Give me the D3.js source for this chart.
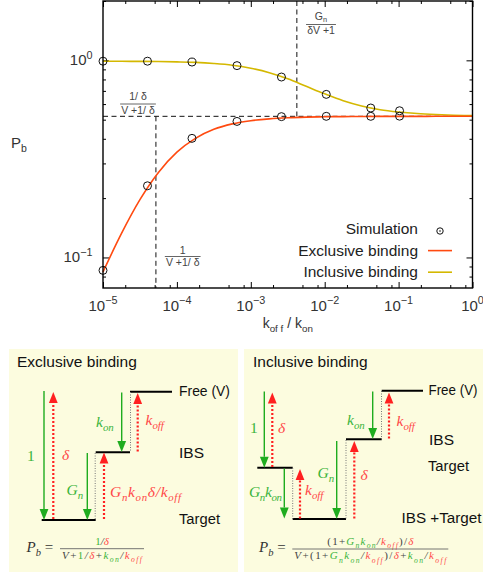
<!DOCTYPE html>
<html>
<head>
<meta charset="utf-8">
<script src="https://cdn.jsdelivr.net/npm/d3@7"></script>
<style>
  body { margin: 0; background: #fff; }
  svg text { font-family: "Liberation Sans", Arial, sans-serif; }
  .math { font-family: "Liberation Serif", "DejaVu Serif", serif; font-style: italic; }
  .up { font-family: "Liberation Serif", "DejaVu Serif", serif; }
</style>
</head>
<body>
<svg width="483" height="573"></svg>
<script>
// ---- data ----
const xMajor = [1e-5, 1e-4, 1e-3, 1e-2, 1e-1, 1]
const xMajorExp = ['\u22125', '\u22124', '\u22123', '\u22122', '\u22121', '0']
const xMinor = [2e-5, 5e-5, 8e-5, 2e-4, 5e-4, 8e-4, 2e-3, 5e-3, 8e-3, 2e-2, 5e-2, 8e-2, 0.2, 0.5, 0.8]
const yMajor = [0.1, 1]
const yMajorExp = ['\u22121', '0']
const yMinor = [0.08, 0.09, 0.2, 0.3, 0.4, 0.5, 0.6, 0.7, 0.8, 0.9, 2]

// theory curves (koff/kon -> Pb)
const curveX = [1e-5, 1.78e-5, 3.16e-5, 5.62e-5, 1e-4, 1.78e-4, 3.16e-4, 5.62e-4, 1e-3, 1.78e-3, 3.16e-3,
  5.62e-3, 1e-2, 1.78e-2, 3.16e-2, 5.62e-2, 0.1, 0.178, 0.316, 0.562, 1]
const exclusiveCurve = [0.0844, 0.1324, 0.1964, 0.270, 0.342, 0.402, 0.4465, 0.476, 0.494, 0.505, 0.5116,
  0.5152, 0.5172, 0.5184, 0.5191, 0.5195, 0.5197, 0.5198, 0.52, 0.52, 0.52]
const inclusiveCurve = [0.99, 0.989, 0.988, 0.986, 0.982, 0.976, 0.964, 0.945, 0.912, 0.866, 0.806,
  0.738, 0.676, 0.624, 0.587, 0.562, 0.547, 0.537, 0.531, 0.527, 0.524]

// simulation points
const simX = [1e-5, 4.0e-5, 1.6e-4, 6.5e-4, 2.6e-3, 1.05e-2, 4.2e-2, 0.103]
const simExclusive = [0.086, 0.231, 0.402, 0.49, 0.518, 0.52, 0.52, 0.521]
const simInclusive = [0.99, 0.99, 0.98, 0.94, 0.823, 0.672, 0.573, 0.555]

// reference lines
const plateau = 0.52          // (1/d)/(V+1/d)
const halfExclusive = 5.2e-5  // 1/(V+1/d)
const halfInclusive = 4.2e-3  // Gn/(dV+1)

const exclColor = '#ff4a10'
const inclColor = '#d4b800'
const green = '#1fac1f'
const red = '#ff2020'
const greenText = '#3bb43b'
const redText = '#ff4848'

const svg = d3.select('svg')

const x = d3.scaleLog().domain([1e-5, 1]).range([103, 472.5])
const y = d3.scaleLog().domain([0.07, 2]).range([288, 1])
const pLeft = x.range()[0], pRight = x.range()[1]
const pTop = y.range()[1], pBottom = y.range()[0]

// rich text: parts = [{t, s: 'sub'|'sup', c: colour}]
function rich(g, px, py, parts, size, opts = {}) {
  const t = g.append('text')
    .attr('x', px).attr('y', py)
    .attr('font-size', size)
    .attr('fill', opts.fill || '#222')
    .attr('text-anchor', opts.anchor || 'start')
  if (opts.cls) t.attr('class', opts.cls)
  if (opts.len) t.attr('textLength', opts.len).attr('lengthAdjust', 'spacing')
  let shift = 0
  parts.forEach(p => {
    let s = 0, fs = size
    if (p.s === 'sub') { s = size * 0.28; fs = size * 0.7 }
    if (p.s === 'sup') { s = -size * 0.42; fs = size * 0.72 }
    const ts = t.append('tspan').text(p.t).attr('font-size', fs).attr('dy', s - shift)
    if (p.c) ts.attr('fill', p.c)
    if (p.up) ts.attr('font-style', 'normal')
    shift = s
  })
  return t
}

function frac(g, cx, ly, num, den, size, opts = {}) {
  const base = { anchor: 'middle', fill: opts.fill, cls: opts.cls }
  const a = rich(g, cx, ly - (opts.numUp || size * 0.3), num, size, Object.assign({}, base, { len: opts.numLen }))
  const b = rich(g, cx, ly + size * 0.95, den, size, Object.assign({}, base, { len: opts.denLen }))
  const w = opts.lineLen || Math.max(a.node().getBBox().width, b.node().getBBox().width) + 2
  g.append('line')
    .attr('x1', cx - w / 2).attr('x2', cx + w / 2)
    .attr('y1', ly).attr('y2', ly)
    .attr('stroke', opts.line || '#555').attr('stroke-width', 0.9)
}

// ---- top chart ----
const chart = svg.append('g')

const axes = chart.append('g').attr('class', 'axes')
const tickStyle = sel => {
  sel.select('.domain').remove()
  sel.selectAll('line').attr('stroke', '#000').attr('stroke-width', 1)
}
axes.append('g').attr('transform', `translate(0,${pBottom})`)
  .call(d3.axisBottom(x).tickValues(xMajor).tickSize(-6).tickFormat('')).call(tickStyle)
axes.append('g').attr('transform', `translate(0,${pBottom})`)
  .call(d3.axisBottom(x).tickValues(xMinor).tickSize(-3).tickFormat('')).call(tickStyle)
axes.append('g').attr('transform', `translate(0,${pTop})`)
  .call(d3.axisTop(x).tickValues(xMajor).tickSize(-6).tickFormat('')).call(tickStyle)
axes.append('g').attr('transform', `translate(0,${pTop})`)
  .call(d3.axisTop(x).tickValues(xMinor).tickSize(-3).tickFormat('')).call(tickStyle)
axes.append('g').attr('transform', `translate(${pLeft},0)`)
  .call(d3.axisLeft(y).tickValues(yMajor).tickSize(-6).tickFormat('')).call(tickStyle)
axes.append('g').attr('transform', `translate(${pLeft},0)`)
  .call(d3.axisLeft(y).tickValues(yMinor).tickSize(-3).tickFormat('')).call(tickStyle)
axes.append('g').attr('transform', `translate(${pRight},0)`)
  .call(d3.axisRight(y).tickValues(yMajor).tickSize(-6).tickFormat('')).call(tickStyle)
axes.append('g').attr('transform', `translate(${pRight},0)`)
  .call(d3.axisRight(y).tickValues(yMinor).tickSize(-3).tickFormat('')).call(tickStyle)

// tick labels
xMajor.forEach((t, i) => {
  rich(chart, x(t), pBottom + 22.5, [{ t: '10' }, { t: xMajorExp[i], s: 'sup' }], 15, { anchor: 'middle', fill: '#333' })
})
yMajor.forEach((t, i) => {
  rich(chart, pLeft - 10.5, y(t) + 4.5, [{ t: '10' }, { t: yMajorExp[i], s: 'sup' }], 15, { anchor: 'end', fill: '#333' })
})

// axis titles
rich(chart, (pLeft + pRight) / 2, 328, [{ t: 'k' }, { t: 'of f', s: 'sub' }, { t: ' / k' }, { t: 'on', s: 'sub' }], 14, { anchor: 'middle', fill: '#333' })
rich(chart, 11, 148, [{ t: 'P' }, { t: 'b', s: 'sub' }], 15, { fill: '#333' })

// dashed guides
const dash = '5,3.5'
chart.append('line')
  .attr('x1', pLeft).attr('x2', pRight).attr('y1', y(plateau)).attr('y2', y(plateau))
  .attr('stroke', '#111').attr('stroke-dasharray', dash)
chart.append('line')
  .attr('x1', x(halfExclusive)).attr('x2', x(halfExclusive)).attr('y1', y(plateau)).attr('y2', pBottom)
  .attr('stroke', '#111').attr('stroke-dasharray', dash)
chart.append('line')
  .attr('x1', x(halfInclusive)).attr('x2', x(halfInclusive)).attr('y1', pTop).attr('y2', y(plateau))
  .attr('stroke', '#111').attr('stroke-dasharray', dash)

// curves
const line = d3.line().x(d => x(d[0])).y(d => y(d[1])).curve(d3.curveMonotoneX)
chart.append('path')
  .datum(curveX.map((v, i) => [v, inclusiveCurve[i]]))
  .attr('d', line).attr('fill', 'none').attr('stroke', inclColor).attr('stroke-width', 1.6)
chart.append('path')
  .datum(curveX.map((v, i) => [v, exclusiveCurve[i]]))
  .attr('d', line).attr('fill', 'none').attr('stroke', exclColor).attr('stroke-width', 1.6)

// simulation circles
const pts = simX.map((v, i) => [v, simExclusive[i]]).concat(simX.map((v, i) => [v, simInclusive[i]]))
chart.selectAll('circle.sim')
  .data(pts)
  .enter()
  .append('circle')
  .attr('class', 'sim')
  .attr('cx', d => x(d[0]))
  .attr('cy', d => y(d[1]))
  .attr('r', 4)
  .attr('fill', 'none')
  .attr('stroke', '#111')
  .attr('stroke-width', 1)

// frame
chart.append('rect')
  .attr('x', pLeft).attr('y', pTop).attr('width', pRight - pLeft).attr('height', pBottom - pTop)
  .attr('fill', 'none').attr('stroke', '#000').attr('stroke-width', 1.4)

// annotations
const ann = { fill: '#444' }
frac(chart, 138, 104, [{ t: '1/ \u03b4' }], [{ t: 'V +1/ \u03b4' }], 10.5, Object.assign({ numUp: 4 }, ann))
frac(chart, 321, 24.5, [{ t: 'G' }, { t: 'n', s: 'sub' }], [{ t: '\u03b4V +1' }], 10.5, Object.assign({ numUp: 5 }, ann))
frac(chart, 182.7, 256.5, [{ t: '1' }], [{ t: 'V +1/ \u03b4' }], 10.5, Object.assign({ numUp: 2.5 }, ann))

// legend
const legend = chart.append('g')
const legendRows = ['Simulation', 'Exclusive binding', 'Inclusive binding']
legendRows.forEach((name, i) => {
  const by = 234 + i * 21.6
  legend.append('text').attr('x', 418).attr('y', by).attr('text-anchor', 'end')
    .attr('font-size', 15.5).attr('fill', '#222').text(name)
  if (i === 0) {
    legend.append('circle').attr('cx', 440).attr('cy', by - 3).attr('r', 3.2)
      .attr('fill', 'none').attr('stroke', '#111').attr('stroke-width', 1)
    legend.append('circle').attr('cx', 440).attr('cy', by - 3).attr('r', 0.8).attr('fill', '#111')
  } else {
    legend.append('line').attr('x1', 428).attr('x2', 452).attr('y1', by - 5).attr('y2', by - 5)
      .attr('stroke', i === 1 ? exclColor : inclColor).attr('stroke-width', 1.6)
  }
})

// ---- bottom schemes ----
const scheme = svg.append('g')
scheme.append('rect').attr('x', 9).attr('y', 349).attr('width', 229).attr('height', 223).attr('fill', '#fcfcdf')
scheme.append('rect').attr('x', 244).attr('y', 349).attr('width', 239).attr('height', 223).attr('fill', '#fcfcdf')

function level(x1, x2, ly) {
  scheme.append('line').attr('x1', x1).attr('x2', x2).attr('y1', ly).attr('y2', ly)
    .attr('stroke', '#000').attr('stroke-width', 2)
}
function connector(cx, y1, y2) {
  scheme.append('line').attr('x1', cx).attr('x2', cx).attr('y1', y1).attr('y2', y2)
    .attr('stroke', '#777').attr('stroke-width', 1).attr('stroke-dasharray', '1,1.5')
}
function arrow(cx, yFrom, yTo, color, dotted) {
  const dir = yTo > yFrom ? 1 : -1
  const hl = 11, hw = 4.4
  const l = scheme.append('line').attr('x1', cx).attr('x2', cx)
    .attr('y1', yFrom).attr('y2', yTo - dir * hl)
    .attr('stroke', color).attr('stroke-width', dotted ? 2.2 : 1.4)
  if (dotted) l.attr('stroke-dasharray', '2,2')
  scheme.append('path')
    .attr('d', `M${cx},${yTo} L${cx - hw},${yTo - dir * hl} L${cx + hw},${yTo - dir * hl} Z`)
    .attr('fill', color)
}
const label = (px, py, txt, len, size) => {
  const t = scheme.append('text').attr('x', px).attr('y', py)
    .attr('font-size', size || 15.5).attr('fill', '#111').text(txt)
  if (len) t.attr('textLength', len).attr('lengthAdjust', 'spacingAndGlyphs')
  return t
}
const mlab = (px, py, parts, c, len) => rich(scheme, px, py, parts, 15.5, { fill: c, cls: 'math', len: len })

// exclusive panel
label(17, 366.7, 'Exclusive binding')
level(130, 172, 391.7)
level(95.7, 130, 452.3)
level(41.7, 95.7, 520)
label(179, 396, 'Free (V)', 51)
label(179, 457.5, 'IBS')
label(179, 524, 'Target', 41)
connector(130.5, 392, 452)
connector(95.2, 453, 520)
arrow(44, 391, 520, green, false)
arrow(53.3, 519, 392, red, true)
arrow(121.7, 392.5, 452, green, false)
arrow(137.7, 451.5, 393, red, true)
arrow(87.3, 453, 520, green, false)
arrow(104, 519, 452.5, red, true)
rich(scheme, 27, 461, [{ t: '1' }], 15.5, { fill: greenText, cls: 'up' })
mlab(62, 460, [{ t: '\u03b4' }], redText)
mlab(96, 426.5, [{ t: 'k' }, { t: 'on', s: 'sub' }], greenText)
mlab(145.5, 425, [{ t: 'k' }, { t: 'off', s: 'sub' }], redText)
mlab(66.5, 495, [{ t: 'G' }, { t: 'n', s: 'sub' }], greenText)
mlab(110, 496.5, [{ t: 'G' }, { t: 'n', s: 'sub' }, { t: 'k' }, { t: 'on', s: 'sub' }, { t: '\u03b4/k' }, { t: 'off', s: 'sub' }], redText, 71)

rich(scheme, 26.5, 552, [{ t: 'P' }, { t: 'b', s: 'sub' }, { t: ' =', up: true }], 15, { fill: '#333', cls: 'math' })
frac(scheme, 102, 548.7,
  [{ t: '1', c: greenText, up: true }, { t: '/' }, { t: '\u03b4', c: redText }],
  [{ t: 'V' }, { t: '+', up: true }, { t: '1', c: greenText, up: true }, { t: '/' }, { t: '\u03b4', c: redText }, { t: '+', up: true },
   { t: 'k', c: greenText }, { t: 'on', s: 'sub', c: greenText }, { t: '/' }, { t: 'k', c: redText }, { t: 'off', s: 'sub', c: redText }],
  11, { fill: '#444', cls: 'math', line: '#666', numUp: 3.8, denLen: 80, lineLen: 84 })

// inclusive panel
label(253, 366.7, 'Inclusive binding')
level(381.7, 423, 390.7)
level(346, 381.7, 439.3)
level(257.3, 292.7, 467.7)
level(292.7, 346, 519)
label(428.5, 395, 'Free (V)', 49, 14.5)
label(429, 445, 'IBS')
label(428, 471, 'Target', 41)
label(401.5, 523, 'IBS +Target', 80)
connector(381.5, 391, 439)
connector(346, 440, 519)
connector(292.7, 468, 519)
arrow(264.3, 391.5, 467.7, green, false)
arrow(272.3, 467, 392.5, red, true)
arrow(372.7, 391.5, 439, green, false)
arrow(389, 438.5, 392.5, red, true)
arrow(336.7, 441, 519, green, false)
arrow(354.3, 518.5, 441, red, true)
arrow(284.3, 468.5, 518.5, green, false)
arrow(300, 518.5, 469, red, true)
rich(scheme, 250, 433, [{ t: '1' }], 15.5, { fill: greenText, cls: 'up' })
mlab(278, 433, [{ t: '\u03b4' }], redText)
mlab(347, 425, [{ t: 'k' }, { t: 'on', s: 'sub' }], greenText)
mlab(396.5, 426, [{ t: 'k' }, { t: 'off', s: 'sub' }], redText)
mlab(317.5, 478, [{ t: 'G' }, { t: 'n', s: 'sub' }], greenText)
mlab(360.5, 480, [{ t: '\u03b4' }], redText)
mlab(249, 496.5, [{ t: 'G' }, { t: 'n', s: 'sub' }, { t: 'k' }, { t: 'on', s: 'sub' }], greenText, 33)
mlab(305, 495, [{ t: 'k' }, { t: 'off', s: 'sub' }], redText)

rich(scheme, 259, 552, [{ t: 'P' }, { t: 'b', s: 'sub' }, { t: ' =', up: true }], 15, { fill: '#333', cls: 'math' })
const gk = [{ t: 'G', c: greenText }, { t: 'n', s: 'sub', c: greenText }, { t: 'k', c: greenText }, { t: 'on', s: 'sub', c: greenText }]
const koff = [{ t: 'k', c: redText }, { t: 'off', s: 'sub', c: redText }]
frac(scheme, 370.3, 549,
  [{ t: '(1+', up: true }].concat(gk, [{ t: '/' }], koff, [{ t: ')/', up: true }, { t: '\u03b4', c: redText }]),
  [{ t: 'V' }, { t: '+(1+', up: true }].concat(gk, [{ t: '/' }], koff, [{ t: ')/', up: true }, { t: '\u03b4', c: redText }, { t: '+', up: true },
    { t: 'k', c: greenText }, { t: 'on', s: 'sub', c: greenText }, { t: '/' }], koff),
  11, { fill: '#444', cls: 'math', line: '#666', numUp: 4.5, numLen: 86, denLen: 152, lineLen: 156 })
</script>
</body>
</html>
